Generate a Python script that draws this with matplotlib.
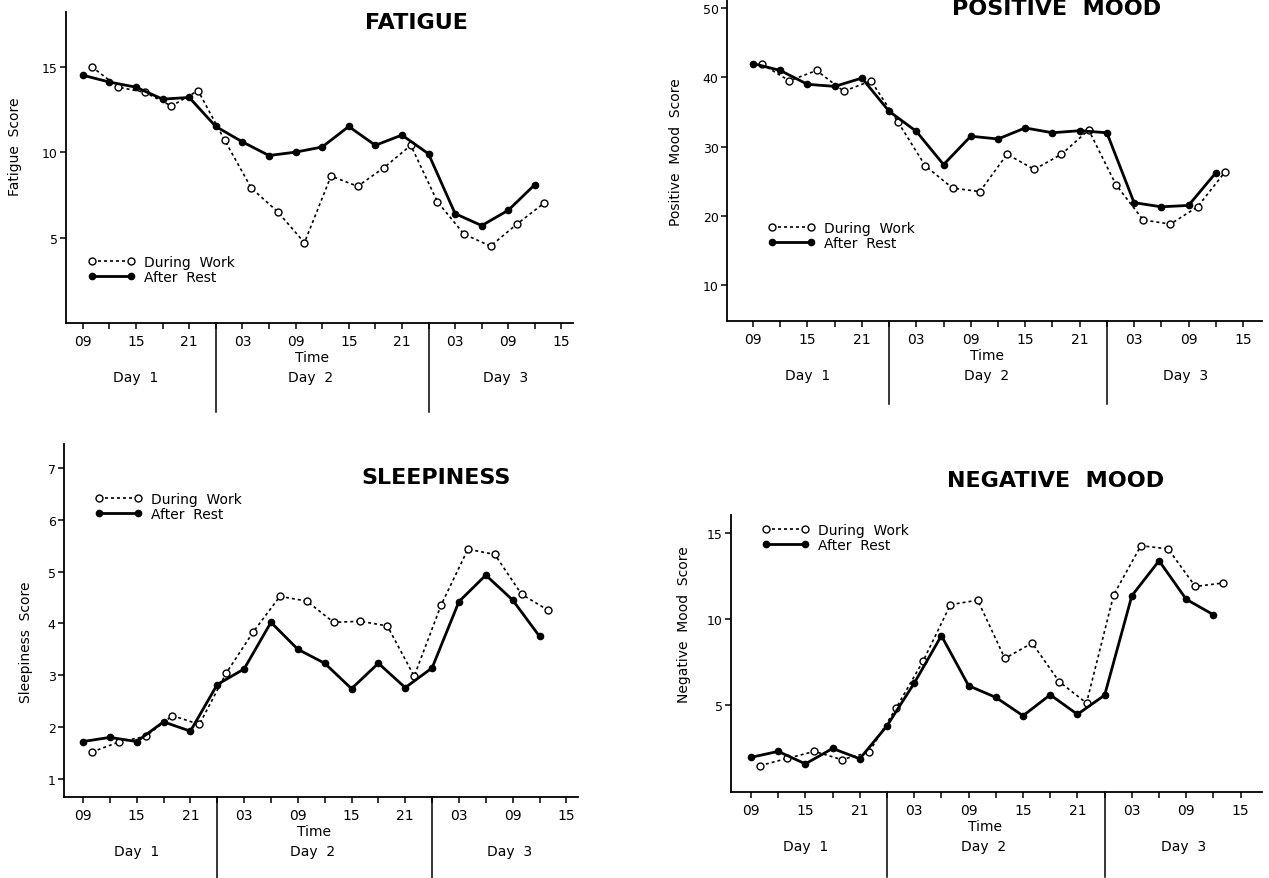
import matplotlib
matplotlib.use("Agg")
import matplotlib.pyplot as plt
from matplotlib.transforms import Affine2D

# -------------------------------
# DATA (clock time in hours from 00:00 on day 1)
# -------------------------------
hours_rest = [9, 12, 15, 18, 21, 24, 27, 30, 33, 36, 39, 42, 45, 48, 51, 54, 57, 60]
hours_work = [10, 13, 16, 19, 22, 25, 28, 31, 34, 37, 40, 43, 46, 49, 52, 55, 58, 61]

fatigue_work = [15.0, 13.8, 13.5, 12.7, 13.6, 10.7, 7.9, 6.5, 4.7, 8.6, 8.0, 9.1,
                10.4, 7.1, 5.2, 4.5, 5.8, 7.0]
fatigue_rest = [14.5, 14.1, 13.8, 13.1, 13.2, 11.5, 10.6, 9.8, 10.0, 10.3, 11.5, 10.4,
                11.0, 9.9, 6.4, 5.7, 6.6, 8.1]

posmood_work = [41.9, 39.5, 41.0, 38.0, 39.5, 33.5, 27.2, 24.0, 23.5, 28.9, 26.7, 28.9,
                32.4, 24.5, 19.4, 18.8, 21.3, 26.3]
posmood_rest = [42.0, 41.0, 39.0, 38.7, 39.9, 35.1, 32.2, 27.4, 31.5, 31.1, 32.7, 32.0,
                32.3, 32.0, 21.9, 21.3, 21.5, 26.2]

sleep_work = [1.52, 1.71, 1.82, 2.22, 2.05, 3.04, 3.83, 4.52, 4.43, 4.02, 4.04, 3.95,
              2.98, 4.35, 5.43, 5.33, 4.56, 4.25]
sleep_rest = [1.72, 1.80, 1.72, 2.10, 1.92, 2.82, 3.12, 4.02, 3.50, 3.23, 2.74, 3.23,
              2.76, 3.14, 4.42, 4.93, 4.45, 3.75]

negmood_work = [1.45, 1.87, 2.28, 1.80, 2.22, 4.80, 7.57, 10.84, 11.10, 7.70, 8.60, 6.34,
                5.10, 11.42, 14.28, 14.09, 11.90, 12.10]
negmood_rest = [1.93, 2.28, 1.55, 2.45, 1.85, 3.77, 6.26, 9.03, 6.11, 5.43, 4.36, 5.58,
                4.44, 5.56, 11.36, 13.40, 11.15, 10.25]

tick_hours = [9, 15, 21, 27, 33, 39, 45, 51, 57, 63]
tick_labels = ["09", "15", "21", "03", "09", "15", "21", "03", "09", "15"]
minor_hours = [12, 18, 24, 30, 36, 42, 48, 54, 60]
day_bounds = [24, 48]
day_names = ["Day  1", "Day  2", "Day  3"]
day_centres = [15.0, 34.7, 56.7]

W, H = 1269, 879

fig = plt.figure(figsize=(W / 100, H / 100), dpi=100)
# pixel coordinates, origin top-left
px = Affine2D().scale(1 / W, -1 / H).translate(0, 1) + fig.transFigure


def box(left, top, right, bottom):
    return [left / W, 1 - bottom / H, (right - left) / W, (bottom - top) / H]


# -------------------------------
# PANELS
# -------------------------------
panels = [
    dict(title="FATIGUE", title_xy=(416, 29), rect=(66, 13, 573, 324),
         xlim=(7.1, 64.3), ylim=(0, 18.2), yticks=[5, 10, 15],
         ylabel="Fatigue  Score", ylabel_xy=(15, 147),
         work=fatigue_work, rest=fatigue_rest, legend_xy=(88, 256), sep=89),
    dict(title="POSITIVE  MOOD", title_xy=(1057, 15), rect=(727, -5, 1262, 322),
         xlim=(6.13, 65.1), ylim=(4.8, 52.05), yticks=[10, 20, 30, 40, 50],
         ylabel="Positive  Mood  Score", ylabel_xy=(676, 152),
         work=posmood_work, rest=posmood_rest, legend_xy=(768, 222), sep=83),
    dict(title="SLEEPINESS", title_xy=(436, 484), rect=(64, 445, 578, 798),
         xlim=(6.88, 64.3), ylim=(0.65, 7.46), yticks=[1, 2, 3, 4, 5, 6, 7],
         ylabel="Sleepiness  Score", ylabel_xy=(26, 642),
         work=sleep_work, rest=sleep_rest, legend_xy=(95, 493), sep=82),
    dict(title="NEGATIVE  MOOD", title_xy=(1056, 487), rect=(731, 516, 1262, 793),
         xlim=(6.8, 65.35), ylim=(-0.09, 16.07), yticks=[5, 10, 15],
         ylabel="Negative  Mood  Score", ylabel_xy=(684, 625),
         work=negmood_work, rest=negmood_rest, legend_xy=(762, 524), sep=85),
]

for p in panels:
    ax = fig.add_axes(box(*p["rect"]))
    ax.patch.set_alpha(0)

    ax.plot(hours_work, p["work"], color="black", lw=1.2, ls=(0, (1.8, 1.8)),
            marker="o", ms=5, mfc="white", mec="black", mew=1.0,
            label="During  Work", clip_on=False, zorder=3)
    ax.plot(hours_rest, p["rest"], color="black", lw=2.0, ls="-",
            marker="o", ms=4.5, mfc="black", mec="black",
            label="After  Rest", clip_on=False, zorder=4)

    ax.set_xlim(*p["xlim"])
    ax.set_ylim(*p["ylim"])
    ax.set_xticks(tick_hours)
    ax.set_xticklabels(tick_labels)
    ax.set_xticks(minor_hours, minor=True)
    ax.set_yticks(p["yticks"])

    for s in ["top", "right"]:
        ax.spines[s].set_visible(False)
    for s in ["left", "bottom"]:
        ax.spines[s].set_linewidth(1.3)
    ax.tick_params(axis="both", which="both", direction="out", length=4, width=1.1)
    ax.tick_params(axis="x", labelsize=10, pad=4)
    ax.tick_params(axis="y", labelsize=9, pad=2)

    ax.set_ylabel(p["ylabel"], fontsize=10)
    ax.yaxis.set_label_coords(*p["ylabel_xy"], transform=px)
    ax.yaxis.label.set_va("center")

    # day separators below the time axis
    axis_h = p["rect"][3] - p["rect"][1]
    for b in day_bounds:
        ax.plot([b, b], [0, -p["sep"] / axis_h],
                transform=ax.get_xaxis_transform(), color="black", lw=1.1,
                clip_on=False)

    ax.annotate("Time", xy=(34.8, 0), xycoords=("data", "axes fraction"),
                xytext=(0, -34 * 0.72), textcoords="offset points",
                ha="center", va="center", fontsize=10)
    for name, c in zip(day_names, day_centres):
        ax.annotate(name, xy=(c, 0), xycoords=("data", "axes fraction"),
                    xytext=(0, -54 * 0.72), textcoords="offset points",
                    ha="center", va="center", fontsize=10)

    ax.legend(loc="upper left", bbox_to_anchor=p["legend_xy"],
              bbox_transform=px, frameon=False, numpoints=2, fontsize=10,
              handlelength=3.4, handletextpad=0.6, labelspacing=0.05,
              borderpad=0, borderaxespad=0)

    fig.text(*p["title_xy"], p["title"], transform=px, ha="center",
             va="baseline", fontsize=16, fontweight="bold")

fig.savefig("out.png", dpi=100)
